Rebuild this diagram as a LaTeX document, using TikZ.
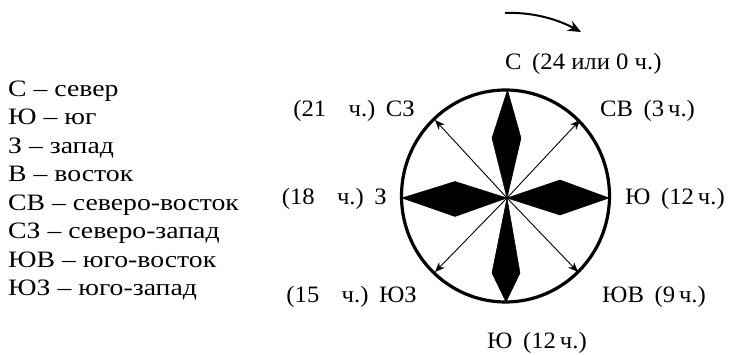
\documentclass[tikz,border=0pt]{standalone}
\usepackage{fontspec}
\setmainfont{Liberation Serif}
\newfontfamily\legfont[FakeStretch=1.18]{Liberation Serif}
\newfontfamily\labfont[FakeStretch=1.05]{Liberation Serif}
\usetikzlibrary{arrows.meta}
\tikzset{
  leg/.style={anchor=base west, inner sep=0pt, font=\legfont\fontsize{23.5}{28}\selectfont},
  lbl/.style={inner sep=0pt, font=\labfont\fontsize{23.5}{28}\selectfont},
  dia/.style={fill=black, draw=black, line width=0.5pt, line join=round},
  ray/.style={line width=0.9pt, -{Stealth[length=10pt,width=8pt]}},
  rim/.style={line width=3.2pt},
  turn/.style={line width=2pt, -{Stealth[length=13pt,width=11pt]}}
}
\begin{document}
\begin{tikzpicture}[x=1pt,y=-1pt]
\useasboundingbox (0,0) rectangle (729,355);
% legend
\node[leg] (l1) at (8,96.5) {С – север};
\node[leg] (l2) at (8,125) {Ю – юг};
\node[leg] (l3) at (8,153.5) {З – запад};
\node[leg] (l4) at (8,182) {В – восток};
\node[leg] (l5) at (8,210.5) {СВ – северо-восток};
\node[leg] (l6) at (8,239) {СЗ – северо-запад};
\node[leg] (l7) at (8,267.5) {ЮВ – юго-восток};
\node[leg] (l8) at (8,296) {ЮЗ – юго-запад};
% compass
\coordinate (c) at (507,198);
\coordinate (nw) at (435,120);
\coordinate (ne) at (580,120);
\coordinate (sw) at (435,272);
\coordinate (se) at (578,272);
\draw[rim] (505.5,196) ellipse [x radius=104, y radius=106];
\fill[dia] (c) -- (492,138) -- (507.5,90) -- (521,138) -- cycle;
\fill[dia] (c) -- (492,273) -- (506,302) -- (520,273) -- cycle;
\fill[dia] (c) -- (455,216.5) -- (402,198) -- (455,181.5) -- cycle;
\fill[dia] (c) -- (560,215) -- (609,198) -- (560,180) -- cycle;
\draw[ray] (c) -- (nw);
\draw[ray] (c) -- (ne);
\draw[ray] (c) -- (sw);
\draw[ray] (c) -- (se);
% rotation arrow
\coordinate (t1) at (505,13);
\coordinate (t2) at (581,32);
\draw[turn] (t1) .. controls (530,12) and (555,18) .. (t2);
% labels
\node[lbl, anchor=base west] (n) at (505,70) {С\hspace{0.45em}(24 или 0 ч.)};
\node[lbl, anchor=base east] (nwl) at (415,117) {(21\hspace{0.95em}ч.)\hspace{0.45em}СЗ};
\node[lbl, anchor=base west] (nel) at (600,117) {СВ\hspace{0.45em}(3\,ч.)};
\node[lbl, anchor=base east] (wl) at (387,205) {(18\hspace{0.95em}ч.)\hspace{0.45em}З};
\node[lbl, anchor=base west] (el) at (625,205) {Ю\hspace{0.45em}(12\,ч.)};
\node[lbl, anchor=base east] (swl) at (417,303) {(15\hspace{0.95em}ч.)\hspace{0.45em}ЮЗ};
\node[lbl, anchor=base west] (sel) at (602,303) {ЮВ\hspace{0.45em}(9\,ч.)};
\node[lbl, anchor=base west] (s) at (487,349) {Ю\hspace{0.45em}(12\,ч.)};
\end{tikzpicture}
\end{document}
